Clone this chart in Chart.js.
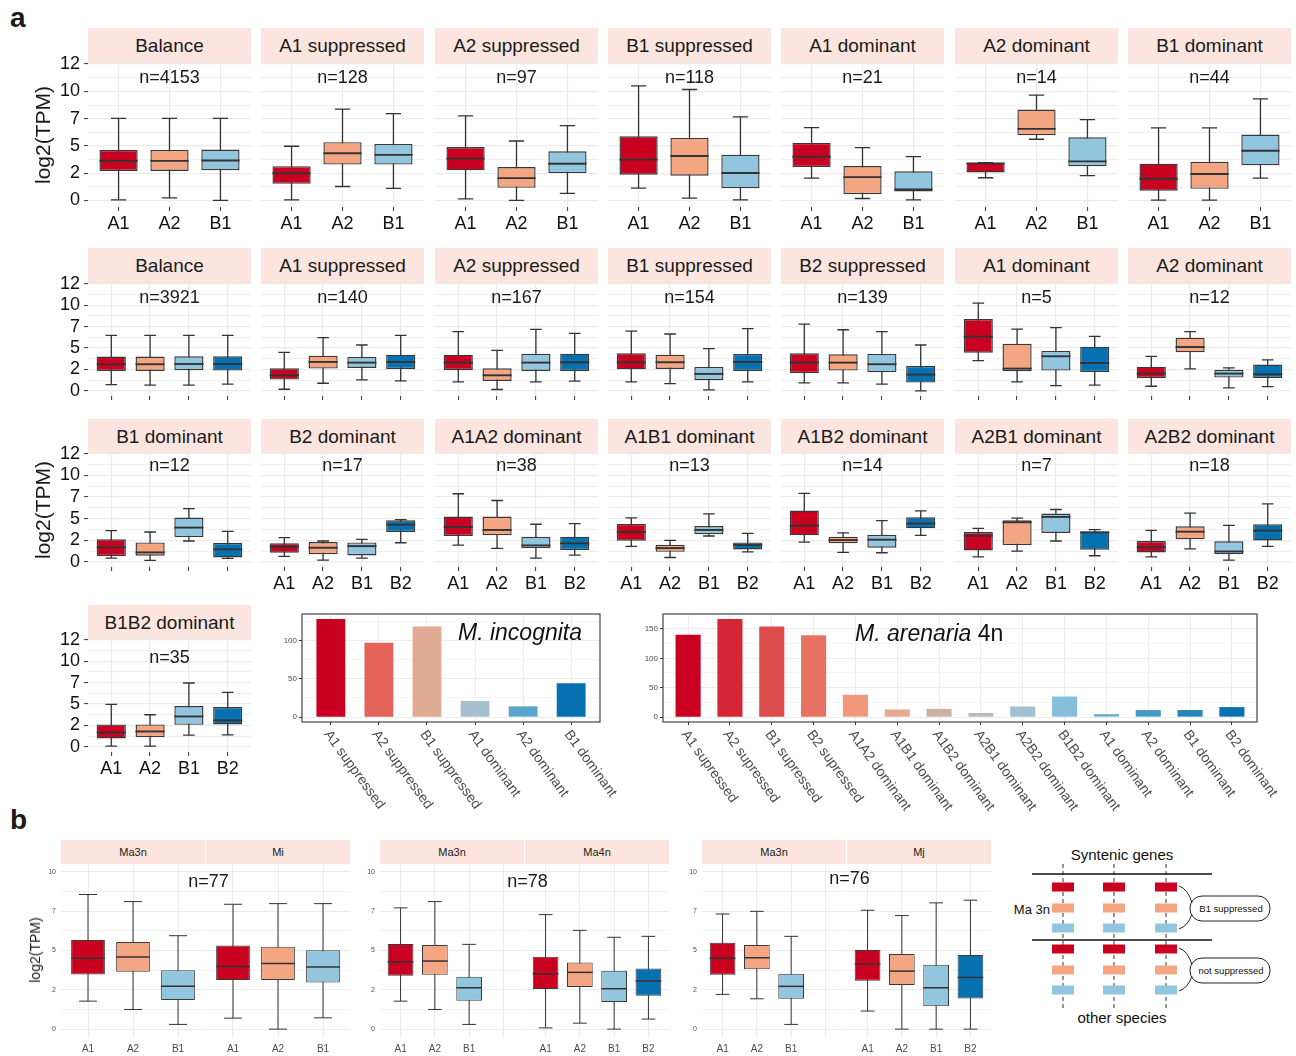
<!DOCTYPE html>
<html lang="en">
<head>
<meta charset="utf-8">
<title>Subgenome expression bias in Meloidogyne</title>
<script src="https://cdn.jsdelivr.net/npm/chart.js@4.4.1/dist/chart.umd.min.js"></script>
<style>
  html, body { margin: 0; padding: 0; background: #fff; }
  body { position: relative; width: 1296px; height: 1056px; overflow: hidden;
         font-family: "Liberation Sans", Arial, Helvetica, sans-serif; color: #1a1a1a; }
  canvas { position: absolute; }
  .strip { position: absolute; background: #FCE5DE; display: flex; align-items: center;
           justify-content: center; white-space: nowrap; color: #1a1a1a; line-height: 1; }
  .txt { position: absolute; white-space: nowrap; line-height: 1; }
  .ytitle { position: absolute; white-space: nowrap; line-height: 1;
            transform: translate(-50%, -50%) rotate(-90deg); }
  .tag { position: absolute; font-weight: bold; font-size: 28px; line-height: 1; }
</style>
</head>
<body>
<div class="tag" style="left:10px; top:4px;">a</div>
<div class="tag" style="left:10px; top:806px;">b</div>

<svg style="position:absolute; left:1000px; top:835px;" width="296" height="200" viewBox="1000 835 296 200"
     font-family="Liberation Sans, Arial, Helvetica, sans-serif">
  <text x="1122" y="860" text-anchor="middle" font-size="15" fill="#111">Syntenic genes</text>
  <g stroke="#333" stroke-width="1" stroke-dasharray="4 3">
    <line x1="1063" y1="864" x2="1063" y2="1010"/>
    <line x1="1114" y1="864" x2="1114" y2="1010"/>
    <line x1="1166" y1="864" x2="1166" y2="1010"/>
  </g>
  <line x1="1032" y1="874" x2="1212" y2="874" stroke="#111" stroke-width="1.6"/>
  <line x1="1032" y1="940" x2="1212" y2="940" stroke="#111" stroke-width="1.6"/>
  <g id="genes"></g>
  <text x="1050" y="914" text-anchor="end" font-size="13" fill="#111">Ma 3n</text>
  <g fill="none" stroke="#222" stroke-width="1">
    <path d="M1179,886 Q1188,889 1192,903"/>
    <path d="M1179,929 Q1188,926 1192,914"/>
    <path d="M1179,948 Q1188,951 1192,965"/>
    <path d="M1179,991 Q1188,988 1192,976"/>
    <rect x="1190" y="896" width="80" height="25" rx="12" ry="12"/>
    <rect x="1190" y="958" width="80" height="25" rx="12" ry="12"/>
  </g>
  <text x="1231" y="912" text-anchor="middle" font-size="9.5" fill="#111">B1 suppressed</text>
  <text x="1231" y="974" text-anchor="middle" font-size="9.5" fill="#111">not suppressed</text>
  <text x="1122" y="1023" text-anchor="middle" font-size="15" fill="#111">other species</text>
</svg>

<script>
// ---------------------------------------------------------------------------
// Data
// ---------------------------------------------------------------------------
const SUB3 = ['A1', 'A2', 'B1'];
const SUB4 = ['A1', 'A2', 'B1', 'B2'];

// M. incognita homeolog groups; each box is [lower whisker, Q1, median, Q3, upper whisker]
const MI_GROUPS = ['Balance', 'A1 suppressed', 'A2 suppressed', 'B1 suppressed',
                   'A1 dominant', 'A2 dominant', 'B1 dominant'];
const MI_COUNTS = [4153, 128, 97, 118, 21, 14, 44];
const MI_STATS = [
  [[0.06, 2.71, 3.63, 4.63, 7.53], [0.24, 2.71, 3.63, 4.63, 7.53], [0.00, 2.77, 3.66, 4.66, 7.53]],
  [[0.06, 1.52, 2.50, 3.14, 4.97], [1.28, 3.29, 4.33, 5.34, 8.38], [1.10, 3.29, 4.18, 5.18, 7.96]],
  [[0.15, 2.76, 3.83, 4.90, 7.75], [0.00, 1.16, 2.05, 3.06, 5.45], [0.64, 2.51, 3.37, 4.50, 6.86]],
  [[1.13, 2.36, 3.74, 5.88, 10.51], [0.21, 2.27, 4.07, 5.73, 10.17], [0.06, 1.13, 2.51, 4.20, 7.66]],
  [[2.05, 3.06, 4.01, 5.27, 6.68], [0.18, 0.58, 2.14, 3.16, 4.84], [0.06, 0.83, 1.01, 2.67, 4.01]],
  [[2.08, 2.57, 3.40, 3.46, 3.46], [5.61, 5.97, 6.56, 8.33, 9.65], [2.27, 3.13, 3.58, 5.79, 7.41]],
  [[0.03, 0.89, 1.99, 3.37, 6.65], [0.03, 1.07, 2.42, 3.55, 6.65], [2.05, 3.22, 4.56, 6.04, 9.31]]
];

// M. arenaria 4n homeolog groups
const MA_GROUPS = ['Balance', 'A1 suppressed', 'A2 suppressed', 'B1 suppressed', 'B2 suppressed',
                   'A1 dominant', 'A2 dominant', 'B1 dominant', 'B2 dominant', 'A1A2 dominant',
                   'A1B1 dominant', 'A1B2 dominant', 'A2B1 dominant', 'A2B2 dominant', 'B1B2 dominant'];
const MA_COUNTS = [3921, 140, 167, 154, 139, 5, 12, 12, 17, 38, 13, 14, 7, 18, 35];
const MA_STATS = [
  [[0.74, 2.33, 3.11, 4.00, 6.48], [0.66, 2.33, 3.11, 4.00, 6.48], [0.66, 2.41, 3.14, 4.04, 6.48], [0.78, 2.37, 3.14, 4.04, 6.48]],
  [[0.19, 1.32, 1.82, 2.64, 4.50], [0.89, 2.60, 3.38, 4.11, 6.21], [1.28, 2.68, 3.30, 3.96, 5.36], [1.16, 2.56, 3.38, 4.23, 6.48]],
  [[1.05, 2.41, 3.30, 4.23, 6.91], [0.16, 1.16, 1.82, 2.64, 4.74], [1.05, 2.33, 3.30, 4.35, 7.18], [1.13, 2.33, 3.34, 4.35, 6.72]],
  [[1.05, 2.52, 3.34, 4.39, 6.99], [0.85, 2.56, 3.34, 4.23, 6.64], [0.12, 1.24, 1.98, 2.80, 4.93], [1.05, 2.33, 3.38, 4.31, 7.26]],
  [[0.93, 2.06, 3.30, 4.39, 7.80], [0.93, 2.37, 3.30, 4.27, 7.14], [0.78, 2.17, 3.11, 4.31, 6.91], [0.00, 0.97, 1.90, 2.91, 5.36]],
  [[3.53, 4.46, 6.33, 8.39, 10.25], [1.05, 2.29, 2.60, 5.51, 7.22], [0.62, 2.37, 4.04, 4.66, 7.38], [0.66, 2.21, 3.26, 5.16, 6.37]],
  [[0.54, 1.48, 2.02, 2.83, 4.04], [2.56, 4.50, 5.12, 6.21, 6.91], [0.35, 1.55, 2.02, 2.48, 2.68], [0.50, 1.51, 1.94, 3.07, 3.61]],
  [[0.43, 0.66, 1.67, 2.60, 3.61], [0.16, 0.70, 1.09, 2.25, 3.45], [2.41, 2.87, 3.96, 5.12, 6.17], [0.39, 0.50, 1.44, 2.21, 3.53]],
  [[0.62, 1.05, 1.75, 2.14, 2.80], [0.19, 0.89, 1.63, 2.29, 2.41], [0.43, 0.74, 1.82, 2.25, 2.60], [2.21, 3.45, 4.31, 4.81, 4.89]],
  [[1.94, 2.99, 4.04, 5.24, 7.88], [1.55, 3.07, 3.69, 5.24, 7.10], [0.43, 1.59, 1.90, 2.91, 4.35], [0.78, 1.36, 2.14, 2.91, 4.43]],
  [[1.79, 2.45, 3.45, 4.39, 5.09], [0.50, 1.16, 1.59, 1.98, 2.48], [2.99, 3.18, 3.69, 4.15, 5.55], [1.16, 1.44, 1.94, 2.25, 3.30]],
  [[2.29, 3.07, 4.19, 5.94, 7.92], [1.09, 2.14, 2.52, 2.91, 3.34], [1.05, 1.63, 2.56, 3.14, 4.77], [3.07, 3.88, 4.43, 5.16, 5.90]],
  [[0.58, 1.32, 3.03, 3.45, 3.88], [1.24, 1.94, 4.58, 4.81, 5.05], [2.41, 3.34, 5.20, 5.59, 6.06], [0.70, 1.40, 3.42, 3.49, 3.73]],
  [[0.58, 1.09, 1.71, 2.41, 3.65], [1.51, 2.60, 3.49, 4.11, 5.63], [0.19, 0.89, 1.20, 2.37, 4.23], [1.79, 2.48, 3.61, 4.35, 6.72]],
  [[0.08, 0.98, 1.68, 2.62, 4.96], [0.08, 1.13, 1.80, 2.62, 3.75], [1.37, 2.58, 3.55, 4.77, 7.46], [1.41, 2.62, 3.09, 4.65, 6.37]]
];

const LOG_TICKS = [0, 2.5, 5, 7.5, 10, 12.5];
const LOG_TICK_LABELS = ['0', '2', '5', '7', '10', '12'];

// Gene counts per category
const MI_BAR_LABELS = ['A1 suppressed', 'A2 suppressed', 'B1 suppressed', 'A1 dominant', 'A2 dominant', 'B1 dominant'];
const MI_BAR_COUNTS = [128, 97, 118, 21, 14, 44];
const MI_BAR_TICKS = [0, 50, 100];
const MA_BAR_LABELS = ['A1 supressed', 'A2 supressed', 'B1 supressed', 'B2 supressed', 'A1A2 dominant',
                       'A1B1 dominant', 'A1B2 dominant', 'A2B1 dominant', 'A2B2 dominant', 'B1B2 dominant',
                       'A1 dominant', 'A2 dominant', 'B1 dominant', 'B2 dominant'];
const MA_BAR_COUNTS = [140, 167, 154, 139, 38, 13, 14, 7, 18, 35, 5, 12, 12, 17];
const MA_BAR_TICKS = [0, 50, 100, 150];

// Syntenic genes: Ma3n against another species
const B_FACETS = [['Ma3n', 'Mi'], ['Ma3n', 'Ma4n'], ['Ma3n', 'Mj']];
const B_COUNTS = [77, 78, 76];
const B_SLOTS = [[SUB3, SUB3], [SUB4, SUB4], [SUB4, SUB4]];
const B_STATS = [
  [
    [[1.78, 3.48, 4.50, 5.67, 8.56], [1.25, 3.65, 4.59, 5.54, 8.11], [0.30, 1.85, 2.72, 3.74, 5.94]],
    [[0.70, 3.12, 3.99, 5.31, 7.94], [0.00, 3.12, 4.18, 5.24, 7.98], [0.72, 2.97, 3.95, 5.01, 7.98]]
  ],
  [
    [[1.78, 3.40, 4.27, 5.41, 7.71], [1.25, 3.46, 4.33, 5.35, 8.11], [0.30, 1.80, 2.63, 3.33, 5.39]],
    [[0.08, 2.55, 3.52, 4.61, 7.28], [0.38, 2.68, 3.61, 4.23, 6.28], [0.00, 1.72, 2.57, 3.72, 5.84], [0.64, 2.12, 3.06, 3.86, 5.90]]
  ],
  [
    [[2.21, 3.46, 4.50, 5.50, 7.32], [1.93, 3.80, 4.54, 5.35, 7.49], [0.30, 1.93, 2.72, 3.52, 5.90]],
    [[1.15, 3.08, 4.14, 5.03, 7.56], [0.00, 2.80, 3.69, 4.78, 7.22], [0.00, 1.46, 2.63, 4.10, 8.03], [0.00, 1.95, 3.29, 4.71, 8.20]]
  ]
];
const B_TICKS = [0, 2.5, 5, 7.5, 10];
const B_TICK_LABELS = ['0', '2', '5', '7', '10'];

// ---------------------------------------------------------------------------
// Styling
// ---------------------------------------------------------------------------
const FONT = '"Liberation Sans", Arial, Helvetica, sans-serif';
const SUB_FILL = { A1: '#CA0020', A2: '#F4A582', B1: '#92C5DE', B2: '#0571B0' };
const MI_BAR_COLORS = ['#CA0020', '#E3635B', '#E0AB94', '#A6BFCC', '#5AA3CC', '#0571B0'];
const MA_BAR_COLORS = ['#CA0020', '#D42637', '#DD4C4D', '#E77264', '#F1987A', '#E5AA90', '#CEB1A5',
                       '#B8B9BB', '#A1C0D0', '#87BFDB', '#67ABD0', '#4698C5', '#2684BB', '#0571B0'];
const GRID = '#EBEBEB';
const SLANT = 54 * Math.PI / 180;

Chart.defaults.font.family = FONT;

function addCanvas(left, top, w, h) {
  const cv = document.createElement('canvas');
  cv.width = w; cv.height = h;
  cv.style.left = left + 'px'; cv.style.top = top + 'px';
  cv.style.width = w + 'px'; cv.style.height = h + 'px';
  document.body.appendChild(cv);
  return cv;
}

function addText(cls, text, css) {
  const d = document.createElement('div');
  d.className = cls;
  d.innerHTML = text;
  Object.assign(d.style, css);
  document.body.appendChild(d);
  return d;
}

// major ticks carry labels, minor ticks sit half-way between them
function yTickList(majors, labels, lo, hi) {
  const step = majors[1] - majors[0];
  const list = majors.filter(v => v >= lo && v <= hi).map((v, i) => ({ value: v, mj: true, text: labels[i] }));
  for (let v = majors[0] - step / 2; v <= hi; v += step) {
    if (v >= lo) list.push({ value: v, mj: false, text: '' });
  }
  return list.sort((a, b) => a.value - b.value);
}

// whiskers behind the boxes, medians and the count label on top
const boxplot = {
  id: 'boxplot',
  beforeDatasetsDraw(chart) {
    const ds = chart.data.datasets[0];
    const { ctx, scales: { x, y } } = chart;
    const half = x.getPixelForValue(1 + ds.capWidth / 2) - x.getPixelForValue(1);
    ctx.save();
    ctx.strokeStyle = ds.lineColor;
    ctx.lineWidth = ds.whiskerWidth;
    ds.stats.forEach((s, i) => {
      const px = x.getPixelForValue(i + 1);
      const lo = y.getPixelForValue(s[0]);
      const hi = y.getPixelForValue(s[4]);
      ctx.beginPath();
      ctx.moveTo(px, lo); ctx.lineTo(px, hi);
      ctx.moveTo(px - half, lo); ctx.lineTo(px + half, lo);
      ctx.moveTo(px - half, hi); ctx.lineTo(px + half, hi);
      ctx.stroke();
    });
    ctx.restore();
  },
  afterDatasetsDraw(chart) {
    const ds = chart.data.datasets[0];
    const meta = chart.getDatasetMeta(0);
    const { ctx, scales: { y } } = chart;
    ctx.save();
    ctx.strokeStyle = ds.lineColor;
    ctx.lineWidth = ds.medianWidth;
    meta.data.forEach((bar, i) => {
      const py = y.getPixelForValue(ds.stats[i][2]);
      const { x, width } = bar.getProps(['x', 'width'], true);
      ctx.beginPath();
      ctx.moveTo(x - width / 2, py); ctx.lineTo(x + width / 2, py);
      ctx.stroke();
    });
    if (ds.countLabel) {
      const a = chart.chartArea;
      ctx.fillStyle = '#1a1a1a';
      ctx.font = ds.countFont + 'px ' + FONT;
      ctx.textAlign = 'center';
      ctx.textBaseline = 'middle';
      ctx.fillText(ds.countLabel, (a.left + a.right) / 2, y.getPixelForValue(ds.countY));
    }
    ctx.restore();
  }
};

function boxFacet(o) {
  const PAD_T = 24, PAD_R = 2;
  const left = Math.round(o.x), top = Math.round(o.top);
  const w = Math.round(o.w), h = Math.round(o.bottom) - top;
  const cv = addCanvas(left - o.axisW, top - PAD_T, w + o.axisW + PAD_R, h + PAD_T + o.axisH);
  const st = o.style;
  const n = o.cats.length;
  new Chart(cv, {
    type: 'bar',
    data: {
      datasets: [{
        data: o.stats.map((s, i) => ({ x: i + 1, y: [s[1], s[3]] })),
        backgroundColor: o.stats.map((s, i) => SUB_FILL[o.cats[i]]),
        borderColor: st.border,
        borderWidth: st.boxLine,
        borderSkipped: false,
        barPercentage: 0.75,
        categoryPercentage: 1,
        stats: o.stats,
        capWidth: st.cap,
        lineColor: st.line,
        whiskerWidth: st.whisker,
        medianWidth: st.median,
        countLabel: o.countLabel || null,
        countY: o.countY,
        countFont: 18
      }]
    },
    options: {
      responsive: false, animation: false, events: [],
      layout: { padding: { top: PAD_T, right: PAD_R, left: 0, bottom: 0 } },
      plugins: { legend: { display: false }, tooltip: { enabled: false } },
      scales: {
        x: {
          type: 'linear', min: 0.4, max: n + 0.6, bounds: 'data', offset: false,
          afterBuildTicks: s => { s.ticks = o.cats.map((c, i) => ({ value: i + 1 })); },
          afterFit: s => { s.height = o.axisH; },
          border: { display: false },
          grid: { offset: false, color: GRID, lineWidth: st.gridMajor, drawTicks: st.xTickLen > 0,
                  tickLength: st.xTickLen, tickColor: '#333333', tickWidth: 1 },
          ticks: { display: o.showX, autoSkip: false, maxRotation: 0, minRotation: 0,
                   padding: st.xPad, color: st.xColor, font: { family: FONT, size: st.xFont },
                   callback: (v, i) => (i < o.stats.length ? o.cats[i] : '') }
        },
        y: {
          type: 'linear', min: o.yMin, max: o.yMax, bounds: 'data', offset: false,
          afterBuildTicks: s => { s.ticks = yTickList(o.yTicks, o.yLabels, o.yMin, o.yMax); },
          afterFit: s => { s.width = o.axisW; },
          border: { display: false },
          grid: {
            color: GRID,
            lineWidth: c => (c.tick && c.tick.mj ? st.gridMajor : st.gridMinor),
            drawTicks: o.showY && st.yTickLen > 0,
            tickLength: st.yTickLen,
            tickColor: c => (c.tick && c.tick.mj ? '#333333' : 'rgba(0,0,0,0)'),
            tickWidth: 1
          },
          ticks: { display: o.showY, autoSkip: false, padding: st.yPad, color: st.yColor,
                   font: { family: FONT, size: st.yFont },
                   callback: (v, i, t) => t[i].text }
        }
      }
    },
    plugins: [boxplot]
  });
}

// ---------------------------------------------------------------------------
// Panel a: expression by homeolog group
// ---------------------------------------------------------------------------
const A_STYLE = {
  border: '#383838', line: '#333333', boxLine: 1.4, whisker: 1.3, median: 1.9, cap: 0.3,
  gridMajor: 1.2, gridMinor: 0.8, xTickLen: 4, yTickLen: 4, xPad: 2.5, yPad: 4,
  xFont: 18, yFont: 18, xColor: '#111', yColor: '#111'
};
const A_ROWS = [
  { top: 62.9, bottom: 206.5, nY: 11.2 },
  { top: 282.6, bottom: 396.0, nY: 10.9 },
  { top: 453.4, bottom: 566.9, nY: 11.1 },
  { top: 639.1, bottom: 751.8, nY: 10.4 }
];
const colX = c => 88 + c * 173.33;
const A_W = 163;

function aFacet(row, col, title, count, cats, stats, showX) {
  const g = A_ROWS[row];
  boxFacet({
    x: colX(col), w: A_W, top: g.top, bottom: g.bottom,
    axisW: col === 0 ? 88 : 0, axisH: showX ? 40 : 16,
    cats, stats, showX, showY: col === 0,
    yMin: -0.6, yMax: 12.6, yTicks: LOG_TICKS, yLabels: LOG_TICK_LABELS,
    countLabel: 'n=' + count, countY: g.nY, style: A_STYLE
  });
  const sTop = Math.round(g.top - 34.6);
  addText('strip', title, {
    left: Math.round(colX(col)) + 'px', top: sTop + 'px', width: A_W + 'px',
    height: (Math.round(g.top) - sTop) + 'px', fontSize: '19px'
  });
}

MI_GROUPS.forEach((g, i) => aFacet(0, i, g, MI_COUNTS[i], SUB3, MI_STATS[i], true));
MA_GROUPS.forEach((g, k) => {
  const row = 1 + Math.floor(k / 7), col = k % 7;
  const showX = row === 3 || (row === 2 && col > 0);
  aFacet(row, col, g, MA_COUNTS[k], SUB4, MA_STATS[k], showX);
});

addText('ytitle', 'log2(TPM)', { left: '42px', top: '135px', fontSize: '21px' });
addText('ytitle', 'log2(TPM)', { left: '42px', top: '510px', fontSize: '21px' });

// ---------------------------------------------------------------------------
// Gene counts per category (bar charts)
// ---------------------------------------------------------------------------
const framedSlanted = {
  id: 'framedSlanted',
  afterDraw(chart) {
    const ds = chart.data.datasets[0];
    const { ctx, chartArea: a, scales: { x } } = chart;
    ctx.save();
    ctx.strokeStyle = '#333333';
    ctx.lineWidth = 1.1;
    ctx.strokeRect(a.left, a.top, a.right - a.left, a.bottom - a.top);
    ctx.fillStyle = '#4d4d4d';
    ctx.font = '14px ' + FONT;
    ctx.textAlign = 'left';
    ctx.textBaseline = 'middle';
    ds.tickText.forEach((t, i) => {
      ctx.save();
      ctx.translate(x.getPixelForValue(i + 1) - 4, a.bottom + 10);
      ctx.rotate(SLANT);
      ctx.fillText(t, 0, 0);
      ctx.restore();
    });
    ctx.restore();
  }
};

function barPanel(o) {
  const PAD_T = 20;
  const n = o.labels.length;
  const cv = addCanvas(o.x - o.axisW, o.top - PAD_T, o.w + o.axisW + o.padR, o.h + PAD_T + o.axisH);
  new Chart(cv, {
    type: 'bar',
    data: {
      datasets: [{
        data: o.values.map((v, i) => ({ x: i + 1, y: v })),
        backgroundColor: o.colors,
        borderWidth: 0,
        barPercentage: 0.6,
        categoryPercentage: 1,
        tickText: o.labels
      }]
    },
    options: {
      responsive: false, animation: false, events: [],
      layout: { padding: { top: PAD_T, right: o.padR, left: 0, bottom: 0 } },
      plugins: { legend: { display: false }, tooltip: { enabled: false } },
      scales: {
        x: {
          type: 'linear', min: 0.4, max: n + 0.6, bounds: 'data', offset: false,
          afterBuildTicks: s => { s.ticks = o.labels.map((c, i) => ({ value: i + 1 })); },
          afterFit: s => { s.height = o.axisH; },
          border: { display: false },
          grid: { offset: false, color: GRID, lineWidth: 0.9, drawTicks: true, tickLength: 3,
                  tickColor: '#333333', tickWidth: 1 },
          ticks: { display: false }
        },
        y: {
          type: 'linear', min: o.yMin, max: o.yMax, bounds: 'data', offset: false,
          afterBuildTicks: s => { s.ticks = yTickList(o.ticks, o.ticks.map(String), o.yMin, o.yMax); },
          afterFit: s => { s.width = o.axisW; },
          border: { display: false },
          grid: {
            color: GRID,
            lineWidth: c => (c.tick && c.tick.mj ? 0.9 : 0.5),
            drawTicks: true, tickLength: 3,
            tickColor: c => (c.tick && c.tick.mj ? '#333333' : 'rgba(0,0,0,0)'),
            tickWidth: 1
          },
          ticks: { autoSkip: false, padding: 2, color: '#4d4d4d', font: { family: FONT, size: 8 },
                   callback: (v, i, t) => t[i].text }
        }
      }
    },
    plugins: [framedSlanted]
  });
}

barPanel({ x: 302, top: 614, w: 298, h: 108, axisW: 40, axisH: 100, padR: 44,
           labels: MI_BAR_LABELS, values: MI_BAR_COUNTS, colors: MI_BAR_COLORS,
           yMin: -6.4, yMax: 134.4, ticks: MI_BAR_TICKS });
barPanel({ x: 663, top: 614, w: 594, h: 108, axisW: 40, axisH: 100, padR: 38,
           labels: MA_BAR_LABELS, values: MA_BAR_COUNTS, colors: MA_BAR_COLORS,
           yMin: -8.35, yMax: 175.35, ticks: MA_BAR_TICKS });

addText('txt', '<i>M. incognita</i>', { left: '458px', top: '621px', fontSize: '23px', color: '#111' });
addText('txt', '<i>M. arenaria</i> 4n', { left: '855px', top: '622px', fontSize: '23px', color: '#111' });

// ---------------------------------------------------------------------------
// Panel b: syntenic genes, Ma3n vs other species
// ---------------------------------------------------------------------------
const B_STYLE = {
  border: '#3a3a3a', line: '#333333', boxLine: 1, whisker: 1, median: 1.5, cap: 0.4,
  gridMajor: 1, gridMinor: 0.6, xTickLen: 0, yTickLen: 0, xPad: 6, yPad: 5,
  xFont: 10, yFont: 7, xColor: '#4d4d4d', yColor: '#4d4d4d'
};
const B_LEFTS = [[61, 206], [380, 525], [702, 847]];
const B_W = 144;
const B_TOP = 864.4, B_BOTTOM = 1037.2;

B_FACETS.forEach((pair, p) => {
  pair.forEach((name, f) => {
    boxFacet({
      x: B_LEFTS[p][f], w: B_W, top: B_TOP, bottom: B_BOTTOM,
      axisW: f === 0 ? 30 : 0, axisH: 24,
      cats: B_SLOTS[p][f], stats: B_STATS[p][f], showX: true, showY: f === 0,
      yMin: -0.5, yMax: 10.5, yTicks: B_TICKS, yLabels: B_TICK_LABELS, style: B_STYLE
    });
    addText('strip', name, {
      left: B_LEFTS[p][f] + 'px', top: '840px', width: B_W + 'px', height: '24px', fontSize: '11px'
    });
  });
  const cx = (B_LEFTS[p][0] + B_LEFTS[p][1] + B_W) / 2 + 3;
  addText('txt', 'n=' + B_COUNTS[p], {
    left: cx + 'px', top: (p === 2 ? 869 : 872) + 'px', fontSize: '18px',
    transform: 'translateX(-50%)'
  });
});
addText('ytitle', 'log2(TPM)', { left: '35px', top: '950px', fontSize: '14px' });

// gene markers in the schematic
(function drawGenes() {
  const g = document.getElementById('genes');
  const cols = [1063, 1114, 1166];
  const rows = [[887, '#CA0020'], [908, '#F4A582'], [928, '#92C5DE'],
                [949, '#CA0020'], [970, '#F4A582'], [990, '#92C5DE']];
  rows.forEach(([y, c]) => cols.forEach(x => {
    const r = document.createElementNS('http://www.w3.org/2000/svg', 'rect');
    r.setAttribute('x', x - 11); r.setAttribute('y', y - 4.5);
    r.setAttribute('width', 22); r.setAttribute('height', 9);
    r.setAttribute('fill', c);
    g.appendChild(r);
  }));
})();
</script>
</body>
</html>
